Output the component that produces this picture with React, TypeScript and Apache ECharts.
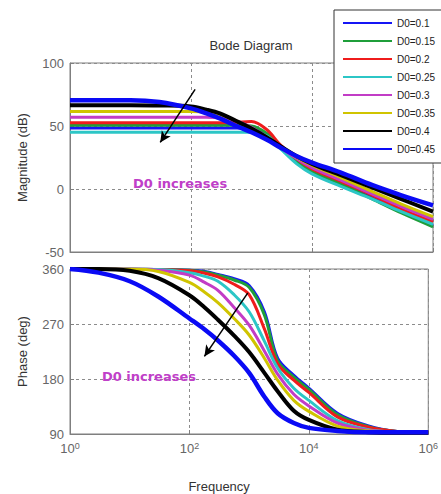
import React, { useEffect, useRef } from 'react';
import * as echarts from 'echarts';

const FONT = '"Liberation Sans", Arial, sans-serif';
const NOTE_FONT = '"DejaVu Sans", Verdana, sans-serif';

const freqs = [1, 3, 10, 30, 100, 180, 300, 560, 1000, 1800, 3000, 5600, 10000, 30000, 100000, 300000, 1000000];

const seriesNames = ['D0=0.1', 'D0=0.15', 'D0=0.2', 'D0=0.25', 'D0=0.3', 'D0=0.35', 'D0=0.4', 'D0=0.45'];
const seriesColors = ['#1515f5', '#1f9e3a', '#ef1c1c', '#2cc6c6', '#c23cc6', '#d0c400', '#000000', '#0a0af5'];
const lineWidths = [3, 3, 3, 3, 3, 3, 4, 4.5];

// Magnitude (dB)
const magD010 = [48.5, 48.5, 48.5, 48.5, 48.5, 48.5, 48.5, 48.5, 48, 43, 33, 22, 15, 4, -7, -18, -29];
const magD015 = [50.5, 50.5, 50.5, 50.5, 50.5, 50.5, 50.5, 50.5, 50, 44, 33, 22, 14, 4, -8, -19, -30];
const magD020 = [52.5, 52.5, 52.5, 52.5, 52.5, 52.5, 52.5, 53, 53.5, 47, 35, 24, 16, 6, -5, -16, -26];
const magD025 = [45, 45, 45, 45, 45, 45, 45, 45, 45, 42, 32, 20, 12, 2, -8, -18, -28];
const magD030 = [57, 57, 57, 57, 57, 57, 56.5, 54, 49, 41, 33, 24, 17, 7, -4, -14, -24];
const magD035 = [61.5, 61.5, 61.5, 61.5, 61.5, 61, 59, 54, 48, 41, 34, 25, 19, 9, -2, -12, -22];
const magD040 = [66.5, 66.5, 66.5, 66.3, 65.5, 63, 60, 54, 48, 41, 34, 26, 20, 11, 1, -8, -18];
const magD045 = [70.5, 70.5, 70.5, 69, 64, 60, 56, 50, 45, 39, 33, 26, 21, 13, 3, -5, -13];

// Phase (deg)
const phD010 = [360, 360, 360, 359, 358, 356, 351, 344, 333, 290, 214, 186, 165, 124, 103, 94, 92];
const phD015 = [360, 360, 360, 359, 358, 355, 350, 342, 330, 285, 210, 183, 163, 122, 102, 94, 92];
const phD020 = [360, 360, 360, 359, 357, 353, 347, 335, 318, 262, 205, 178, 158, 118, 101, 94, 92];
const phD025 = [360, 360, 360, 359, 354, 348, 340, 318, 290, 242, 198, 165, 145, 112, 97, 93, 92];
const phD030 = [360, 360, 360, 358, 350, 338, 325, 297, 268, 226, 188, 155, 136, 108, 96, 93, 92];
const phD035 = [360, 360, 360, 356, 338, 322, 305, 279, 252, 214, 178, 145, 127, 103, 95, 93, 92];
const phD040 = [360, 360, 357, 345, 317, 297, 277, 251, 224, 190, 160, 128, 113, 97, 93, 92, 92];
const phD045 = [360, 354, 340, 315, 279, 261, 243, 218, 190, 151, 124, 108, 100, 95, 93, 93, 93];

const magnitudes = [magD010, magD015, magD020, magD025, magD030, magD035, magD040, magD045];
const phases = [phD010, phD015, phD020, phD025, phD030, phD035, phD040, phD045];

const magTicks = { min: -50, max: 100, interval: 50 };
const phaseTicks = { min: 90, max: 360, interval: 90 };

// annotations: [freq, value]
const magArrow = [[117, 79], [31, 37]];
const phaseArrow = [[950, 321], [178, 217]];
const magNote = [66, 4];
const phaseNote = [21, 184];
const noteText = 'D0 increases';

const GRID = '#7f7f7f';

function xAxisCfg(gridIndex: number, showLabels: boolean) {
  return {
    type: 'log',
    logBase: 10,
    gridIndex,
    min: 1,
    max: 1000000,
    interval: 2,
    axisLine: { show: true, onZero: false, lineStyle: { color: GRID, width: 1 } },
    axisTick: { show: true, inside: true, length: 4, lineStyle: { color: GRID } },
    minorTick: { show: false },
    splitLine: { show: true, lineStyle: { color: '#8c8c8c', type: [3, 3], width: 1 } },
    axisLabel: {
      show: showLabels,
      margin: 7,
      formatter: (v: number) => `{b|10}{s|${Math.round(Math.log10(v))}}`,
      rich: {
        b: { fontSize: 13, lineHeight: 14, padding: [11, 0, 0, 0], color: '#666', fontFamily: FONT, verticalAlign: 'bottom' },
        s: { fontSize: 9, lineHeight: 10, color: '#666', fontFamily: FONT, verticalAlign: 'top' },
      },
    },
    ...(showLabels
      ? {
          name: 'Frequency',
          nameLocation: 'middle',
          nameGap: 46,
          nameTextStyle: { fontSize: 13, color: '#333', fontFamily: FONT, padding: [0, 60, 0, 0] },
        }
      : {}),
  };
}

function yAxisCfg(gridIndex: number, ticks: { min: number; max: number; interval: number }, name: string) {
  return {
    type: 'value',
    gridIndex,
    min: ticks.min,
    max: ticks.max,
    interval: ticks.interval,
    name,
    nameLocation: 'middle',
    nameRotate: 90,
    nameGap: 41,
    nameTextStyle: { fontSize: 13, color: '#333', fontFamily: FONT },
    axisLine: { show: true, onZero: false, lineStyle: { color: GRID, width: 1 } },
    axisTick: { show: true, inside: true, length: 4, lineStyle: { color: GRID } },
    splitLine: { show: true, lineStyle: { color: '#8c8c8c', type: [3, 3], width: 1 } },
    axisLabel: { fontSize: 13, color: '#666', margin: 6, fontFamily: FONT },
  };
}

function annotations(arrow: number[][], note: number[]) {
  return {
    markLine: {
      silent: true,
      symbol: ['none', 'arrow'],
      symbolSize: [8, 11],
      lineStyle: { color: '#000', width: 1.5, type: 'solid' },
      label: { show: false },
      data: [[{ coord: arrow[0] }, { coord: arrow[1] }]],
    },
    markPoint: {
      silent: true,
      symbol: 'circle',
      symbolSize: 1,
      itemStyle: { color: 'rgba(0,0,0,0)' },
      label: {
        show: true,
        position: 'inside',
        formatter: noteText,
        color: '#c040c8',
        fontSize: 13,
        fontWeight: 'bold',
        fontFamily: NOTE_FONT,
      },
      data: [{ coord: note }],
    },
  };
}

export default function App() {
  const ref = useRef<HTMLDivElement>(null);
  useEffect(() => {
    if (!ref.current) return;
    const chart = echarts.init(ref.current, null, { renderer: 'svg' });
    const series: any[] = [];
    const last = seriesNames.length - 1;
    seriesNames.forEach((name, i) => {
      series.push({
        type: 'line',
        name,
        symbol: 'none',
        smooth: 0.35,
        color: seriesColors[i],
        lineStyle: { color: seriesColors[i], width: lineWidths[i] },
        xAxisIndex: 0,
        yAxisIndex: 0,
        data: freqs.map((f, j) => [f, magnitudes[i][j]]),
        ...(i === last ? annotations(magArrow, magNote) : {}),
      });
    });
    seriesNames.forEach((name, i) => {
      series.push({
        type: 'line',
        name,
        symbol: 'none',
        smooth: 0.35,
        color: seriesColors[i],
        lineStyle: { color: seriesColors[i], width: lineWidths[i] },
        xAxisIndex: 1,
        yAxisIndex: 1,
        data: freqs.map((f, j) => [f, phases[i][j]]),
        ...(i === last ? annotations(phaseArrow, phaseNote) : {}),
      });
    });

    chart.setOption({
      animation: false,
      backgroundColor: '#ffffff',
      textStyle: { fontFamily: FONT },
      graphic: [
        {
          type: 'text',
          x: 251,
          y: 45,
          style: { text: 'Bode Diagram', align: 'center', verticalAlign: 'middle', fontSize: 13, fontFamily: FONT, fill: '#333' },
        },
      ],
      legend: {
        data: seriesNames,
        orient: 'vertical',
        left: 334,
        top: 10,
        backgroundColor: '#ffffff',
        borderColor: '#333',
        borderWidth: 1,
        borderRadius: 0,
        padding: [8, 10, 9, 9],
        icon: 'rect',
        itemWidth: 49,
        itemHeight: 2,
        itemGap: 8,
        textStyle: { fontSize: 10, lineHeight: 10, color: '#222', fontFamily: FONT },
      },
      grid: [
        { left: 70, top: 63, width: 363, height: 189, show: true, borderColor: GRID, borderWidth: 1, backgroundColor: 'transparent' },
        { left: 70, top: 269, width: 363, height: 166, show: true, borderColor: GRID, borderWidth: 1, backgroundColor: 'transparent' },
      ],
      xAxis: [xAxisCfg(0, false), xAxisCfg(1, true)],
      yAxis: [yAxisCfg(0, magTicks, 'Magnitude (dB)'), yAxisCfg(1, phaseTicks, 'Phase (deg)')],
      series,
    });
    return () => chart.dispose();
  }, []);
  return <div ref={ref} style={{ position: 'absolute', left: 0, top: 0, width: 441, height: 494 }} />;
}
